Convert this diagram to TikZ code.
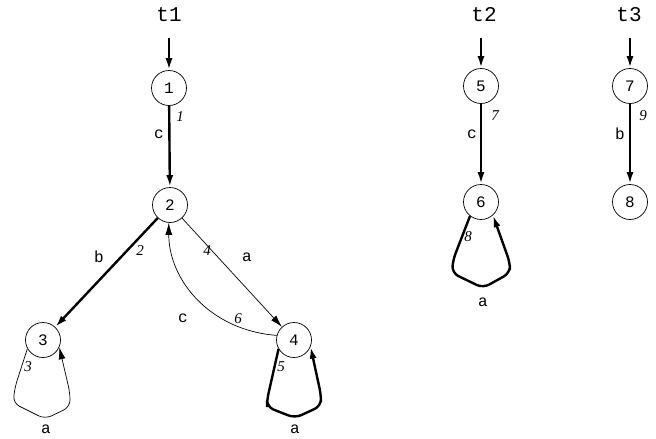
\documentclass[tikz,border=0pt]{standalone}
\usepackage{fontspec}
\setmainfont{Liberation Serif}
\setmonofont{Liberation Mono}
\usetikzlibrary{arrows.meta,calc}
\tikzset{
  state/.style={circle,draw,line width=0.7pt,minimum size=35pt,inner sep=0pt,font=\ttfamily\fontsize{16}{16}\selectfont},
  title/.style={font=\ttfamily\fontsize{21}{21}\selectfont},
  sym/.style={font=\ttfamily\fontsize{16}{16}\selectfont,inner sep=0pt},
  idx/.style={font=\itshape\fontsize{15}{15}\selectfont,inner sep=0pt},
  heavy/.style={line width=2.4pt,-{Latex[length=12pt,width=7pt]}},
  light/.style={line width=0.7pt,-{Latex[length=12pt,width=7pt]}},
  start/.style={line width=2.4pt,-{Latex[length=12pt,width=7pt]}},
  loopround/.style={rounded corners=7pt},
}
\begin{document}
\begin{tikzpicture}[x=1pt,y=1pt]
\useasboundingbox (0,0) rectangle (656,-439);

% automaton t1
\node[title] (t1) at (169,-15) {t1};
\node[state] (n1) at (169,-88) {1};
\node[state] (n2) at (170,-205) {2};
\node[state] (n3) at (43,-340) {3};
\node[state] (n4) at (294,-340) {4};
\coordinate (i1) at (169,-38);
\draw[start] (i1) -- (n1);

\draw[heavy] (n1) -- (n2);
\node[sym] (l1) at (159,-134) {c};
\node[idx] (k1) at (180,-117) {1};

\draw[heavy] (n2) -- (n3);
\node[sym] (l2) at (99,-257) {b};
\node[idx] (k2) at (140,-251) {2};

\draw[light] (n2) -- (n4);
\node[idx] (k4) at (207,-251) {4};
\node[sym] (l4) at (247,-257) {a};

\draw[light] (n4.165) .. controls +(-67,5) and +(0,-57) .. (n2.-94);
\node[sym] (l6) at (183,-318) {c};
\node[idx] (k6) at (238,-319) {6};

\draw[light,loopround] (n3.209) -- ($(n3)+(-28,-47)$) -- ($(n3)+(-30,-63)$)
  -- ($(n3)+(2,-79)$) -- ($(n3)+(27,-67)$) -- ($(n3)+(27,-53)$) -- (n3.-24);
\node[idx] (k3) at (28,-367) {3};
\node[sym] (l3) at (46,-429) {a};

\draw[heavy,loopround] (n4.210) -- ($(n4)+(-27,-60)$) -- ($(n4)+(-27,-67)$)
  -- ($(n4)+(1,-78)$) -- ($(n4)+(27,-66)$) -- ($(n4)+(27,-55)$) -- (n4.-22);
\node[idx] (k5) at (281,-367) {5};
\node[sym] (l5) at (295,-429) {a};

% automaton t2
\node[title] (t2) at (484,-15) {t2};
\node[state] (n5) at (481,-86) {5};
\node[state] (n6) at (481,-202) {6};
\coordinate (i2) at (481,-38);
\draw[start] (i2) -- (n5);

\draw[heavy] (n5) -- (n6);
\node[sym] (l7) at (472,-134) {c};
\node[idx] (k7) at (495,-116) {7};

\draw[heavy,loopround] (n6.232) -- ($(n6)+(-28,-58)$) -- ($(n6)+(-29,-71)$)
  -- ($(n6)+(2,-86)$) -- ($(n6)+(29,-71)$) -- ($(n6)+(29,-61)$) -- (n6.-48);
\node[idx] (k8) at (468,-237) {8};
\node[sym] (l8) at (483,-302) {a};

% automaton t3
\node[title] (t3) at (629,-15) {t3};
\node[state] (n7) at (630,-86) {7};
\node[state] (n8) at (630,-202) {8};
\coordinate (i3) at (630,-38);
\draw[start] (i3) -- (n7);

\draw[heavy] (n7) -- (n8);
\node[sym] (l9) at (620,-134) {b};
\node[idx] (k9) at (643,-116) {9};
\end{tikzpicture}
\end{document}
